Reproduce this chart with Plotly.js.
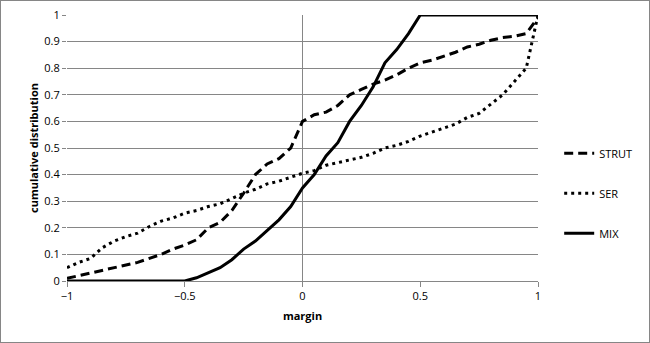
<!DOCTYPE html>
<html>
<head>
<meta charset="utf-8">
<script src="https://cdn.plot.ly/plotly-3.0.1.min.js"></script>
<style>
  body { margin: 0; background: #fff; }
  #wrap { position: relative; width: 650px; height: 343px; }
  #frame { position: absolute; left: 0; top: 0; width: 648px; height: 341px;
           border: 1px solid #868686; pointer-events: none; }
</style>
</head>
<body>
<div id="wrap">
  <div id="plot" style="width:650px;height:343px;"></div>
  <div id="frame"></div>
</div>
<script>
// margin values, step 0.05
let margins = [];
for (let i = 0; i <= 40; i++) margins.push(Math.round((-1 + i * 0.05) * 100) / 100);

let strut = [0.01, 0.02, 0.03, 0.04, 0.05, 0.06, 0.07, 0.085, 0.10, 0.12,
             0.135, 0.155, 0.20, 0.22, 0.265, 0.33, 0.40, 0.44, 0.46, 0.50,
             0.60, 0.625, 0.635, 0.66, 0.70, 0.72, 0.74, 0.755, 0.775, 0.80,
             0.82, 0.83, 0.845, 0.86, 0.88, 0.89, 0.905, 0.915, 0.92, 0.93, 0.99];

let ser = [0.05, 0.07, 0.085, 0.125, 0.15, 0.167, 0.18, 0.205, 0.225, 0.237,
           0.255, 0.265, 0.28, 0.29, 0.31, 0.33, 0.345, 0.365, 0.375, 0.39,
           0.405, 0.415, 0.435, 0.445, 0.455, 0.465, 0.48, 0.50, 0.51, 0.525,
           0.545, 0.56, 0.575, 0.59, 0.615, 0.63, 0.665, 0.70, 0.75, 0.80, 1.0];

let mix = [0, 0, 0, 0, 0, 0, 0, 0, 0, 0,
           0, 0.012, 0.03, 0.05, 0.08, 0.12, 0.15, 0.19, 0.23, 0.28,
           0.35, 0.40, 0.47, 0.52, 0.60, 0.66, 0.73, 0.82, 0.87, 0.93,
           1, 1, 1, 1, 1, 1, 1, 1, 1, 1, 1];

let font = "Open Sans, Liberation Sans, sans-serif";

let traces = [
  { x: margins, y: strut, name: "STRUT", mode: "lines", legendgroup: "a",
    line: { color: "#000", width: 3, dash: "9px,5px" } },
  { x: margins, y: ser, name: "SER", mode: "lines", legendgroup: "b",
    line: { color: "#000", width: 3, dash: "3px,4px" } },
  { x: margins, y: mix, name: "MIX", mode: "lines", legendgroup: "c",
    line: { color: "#000", width: 3 } }
];

let layout = {
  width: 650,
  height: 343,
  margin: { l: 67, r: 112, t: 15, b: 62 },
  paper_bgcolor: "#fff",
  plot_bgcolor: "#fff",
  font: { family: font, size: 11, color: "#000" },
  showlegend: true,
  legend: {
    x: 1.045, xanchor: "left", y: 0.33, yanchor: "middle",
    tracegroupgap: 21, font: { size: 11 }
  },
  xaxis: {
    range: [-1, 1], dtick: 0.5, showgrid: false,
    zeroline: true, zerolinecolor: "#868686", zerolinewidth: 1,
    showline: true, linecolor: "#868686",
    ticks: "outside", ticklen: 5, tickcolor: "#868686",
    title: { text: "margin", font: { size: 11, weight: "bold" }, standoff: 10 }
  },
  yaxis: {
    range: [0, 1], dtick: 0.1, tickformat: "~g",
    showgrid: true, gridcolor: "#868686", gridwidth: 1,
    zeroline: false, showline: false,
    ticks: "outside", ticklen: 4, tickcolor: "#868686",
    title: { text: "cumulative distribution", font: { size: 11, weight: "bold" }, standoff: 3 }
  }
};

Plotly.newPlot("plot", traces, layout, { displayModeBar: false, staticPlot: true });
</script>
</body>
</html>
